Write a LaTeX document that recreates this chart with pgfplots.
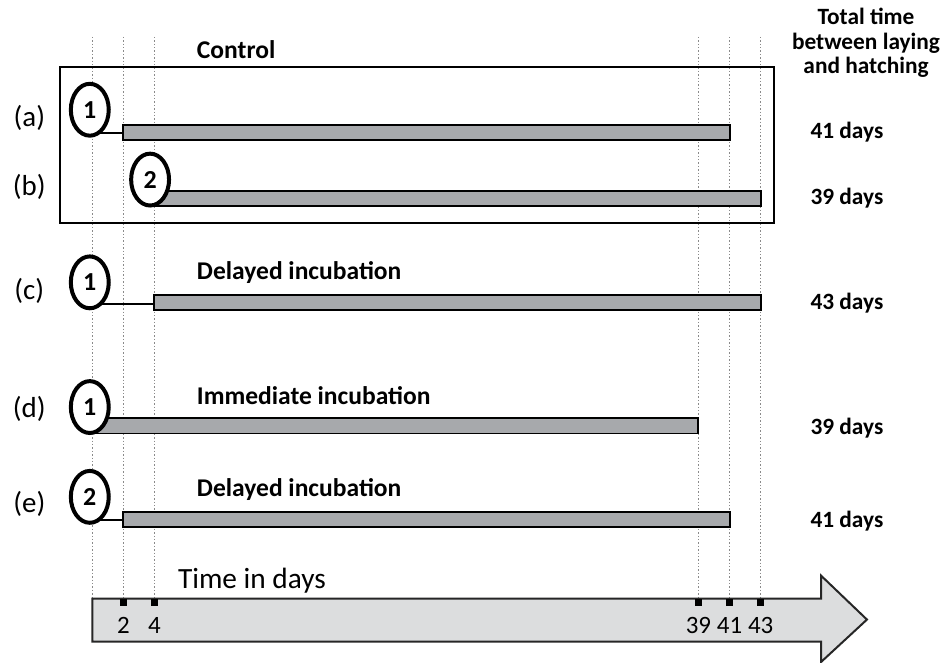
\documentclass[border=0pt]{standalone}
\usepackage{pgfplots}
\pgfplotsset{compat=1.18}
\usepackage{fontspec}
\setmainfont{Carlito}
\usetikzlibrary{shapes.geometric}
\definecolor{barfill}{HTML}{A7A9AC}
\definecolor{arrowfill}{HTML}{DCDDDE}
\definecolor{gridgrey}{HTML}{8A8A8A}
\begin{document}
\begin{tikzpicture}
\begin{axis}[
  width=470pt, height=332pt, scale only axis,
  xmin=-5.937, xmax=54.40, ymin=0, ymax=664, y dir=reverse,
  hide axis, clip=false,
  every node/.style={font=\fontsize{11}{13}\selectfont},
]
\path (rel axis cs:0,0) rectangle (rel axis cs:1,1);
% vertical dotted guides
\addplot[gridgrey, densely dotted, line width=0.7pt] coordinates {(0,37) (0,600)};
\addplot[gridgrey, densely dotted, line width=0.7pt] coordinates {(2,37) (2,600)};
\addplot[gridgrey, densely dotted, line width=0.7pt] coordinates {(4,37) (4,600)};
\addplot[gridgrey, densely dotted, line width=0.7pt] coordinates {(39,37) (39,600)};
\addplot[gridgrey, densely dotted, line width=0.7pt] coordinates {(41,37) (41,600)};
\addplot[gridgrey, densely dotted, line width=0.7pt] coordinates {(43,37) (43,600)};
% control box
\addplot[black, line width=1pt] coordinates {(-2.086,67) (43.87,67) (43.87,224) (-2.086,224)} -- cycle;
% connectors
\addplot[black, line width=1pt] coordinates {(0,133) (2,133)};
\addplot[black, line width=1pt] coordinates {(0,305) (4,305)};
\addplot[black, line width=1pt] coordinates {(0,521) (2,521)};
% bars
\addplot[draw=black, line width=1pt, fill=barfill] coordinates {(2,125) (41,125) (41,140.5) (2,140.5)} -- cycle;
\addplot[draw=black, line width=1pt, fill=barfill] coordinates {(4,191) (43,191) (43,206) (4,206)} -- cycle;
\addplot[draw=black, line width=1pt, fill=barfill] coordinates {(4,296) (43,296) (43,311) (4,311)} -- cycle;
\addplot[draw=black, line width=1pt, fill=barfill] coordinates {(0,418.5) (39,418.5) (39,434.5) (0,434.5)} -- cycle;
\addplot[draw=black, line width=1pt, fill=barfill] coordinates {(2,513) (41,513) (41,528) (2,528)} -- cycle;
% egg markers
\tikzset{egg/.style={ellipse, draw=black, line width=2pt, fill=white, minimum width=19pt, minimum height=26pt, inner sep=0pt, font=\fontsize{13}{15}\selectfont\bfseries}}
\node[egg] at (axis cs:-0.16,110) {1};
\node[egg] at (axis cs:3.72,180) {2};
\node[egg] at (axis cs:-0.16,283) {1};
\node[egg] at (axis cs:-0.16,408) {1};
\node[egg] at (axis cs:-0.16,498) {2};
% row labels
\node[font=\fontsize{14.5}{16}\selectfont] at (axis cs:-4.05,118) {(a)};
\node[font=\fontsize{14.5}{16}\selectfont] at (axis cs:-4.05,187) {(b)};
\node[font=\fontsize{14.5}{16}\selectfont] at (axis cs:-4.05,292) {(c)};
\node[font=\fontsize{14.5}{16}\selectfont] at (axis cs:-4.05,410) {(d)};
\node[font=\fontsize{14.5}{16}\selectfont] at (axis cs:-4.05,505) {(e)};
% group titles
\node[anchor=west, inner sep=0pt, font=\fontsize{12.8}{14}\selectfont\bfseries] at (axis cs:6.71,50) {Control};
\node[anchor=west, inner sep=0pt, font=\fontsize{12.8}{14}\selectfont\bfseries] at (axis cs:6.71,273) {Delayed incubation};
\node[anchor=west, inner sep=0pt, font=\fontsize{12.8}{14}\selectfont\bfseries] at (axis cs:6.71,397) {Immediate incubation};
\node[anchor=west, inner sep=0pt, font=\fontsize{12.8}{14}\selectfont\bfseries] at (axis cs:6.71,491) {Delayed incubation};
% right column
\node[align=center, inner sep=0pt, font=\fontsize{11.7}{12.4}\selectfont\bfseries] at (axis cs:49.78,43) {Total time\\between laying\\and hatching};
\node[font=\fontsize{11.7}{13}\selectfont\bfseries] at (axis cs:48.55,132) {41 days};
\node[font=\fontsize{11.7}{13}\selectfont\bfseries] at (axis cs:48.55,199) {39 days};
\node[font=\fontsize{11.7}{13}\selectfont\bfseries] at (axis cs:48.55,304) {43 days};
\node[font=\fontsize{11.7}{13}\selectfont\bfseries] at (axis cs:48.55,429) {39 days};
\node[font=\fontsize{11.7}{13}\selectfont\bfseries] at (axis cs:48.55,522) {41 days};
% time arrow
\addplot[draw=black!85, line width=1pt, fill=arrowfill] coordinates {(0,600) (46.89,600) (46.89,577) (49.84,621) (46.89,663.5) (46.89,643) (0,643)} -- cycle;
\addplot[only marks, mark=square*, mark size=1.4pt, black] coordinates {(2,604) (4,604) (39,604) (41,604) (43,604)};
\node[font=\fontsize{12.5}{15}\selectfont] at (axis cs:2,627) {2};
\node[font=\fontsize{12.5}{15}\selectfont] at (axis cs:4,627) {4};
\node[font=\fontsize{12.5}{15}\selectfont] at (axis cs:39,627) {39};
\node[font=\fontsize{12.5}{15}\selectfont] at (axis cs:41,627) {41};
\node[font=\fontsize{12.5}{15}\selectfont] at (axis cs:43,627) {43};
\node[anchor=west, inner sep=0pt, font=\fontsize{14.7}{17}\selectfont] at (axis cs:5.49,582) {Time in days};
\end{axis}
\end{tikzpicture}
\end{document}
